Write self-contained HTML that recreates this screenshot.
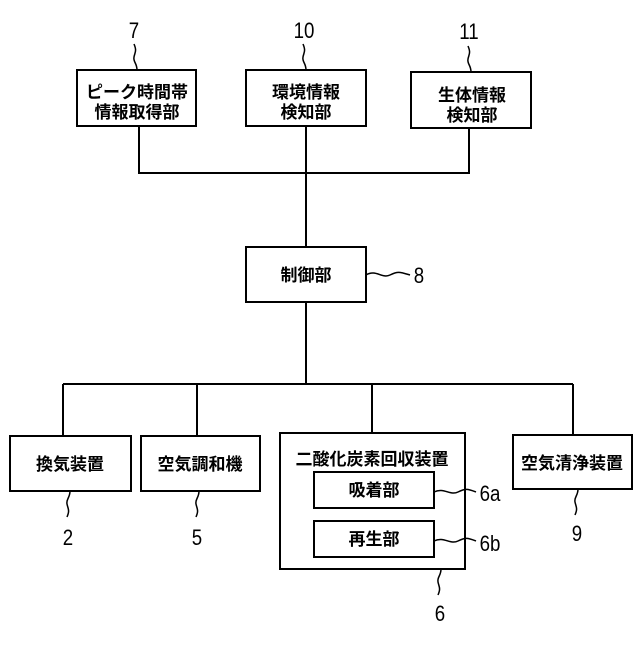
<!DOCTYPE html>
<html><head><meta charset="utf-8"><style>
body{margin:0;background:#fff}
svg text{font-family:"Liberation Sans","Noto Sans CJK JP",sans-serif;fill:#000}
</style></head><body>
<svg width="640" height="640" viewBox="0 0 640 640" xmlns="http://www.w3.org/2000/svg">
<g fill="none" stroke="#000" stroke-width="2">
<rect x="77" y="70" width="119" height="56"/>
<rect x="246" y="70" width="120" height="56"/>
<rect x="411" y="72" width="120" height="56"/>
<rect x="246" y="247" width="120" height="55"/>
<rect x="10" y="436" width="121" height="55"/>
<rect x="141" y="436" width="119" height="55"/>
<rect x="280" y="433" width="185" height="136"/>
<rect x="314" y="472" width="120" height="36"/>
<rect x="314" y="521" width="120" height="36"/>
<rect x="513" y="435" width="119" height="54"/>
<path d="M139 126V173H469V128M306 126V247M306 302V384M63 384H573M63 384V436M197 384V436M372 384V433M573 384V435"/>
<g stroke-width="1.5">
<path d="M137 70c0-7-4-8-3-13s3-6 0-13"/>
<path d="M306 70c0-7-4-8-3-13s3-6 0-13"/>
<path d="M471 72c0-7-4-8-3-13s3-6 0-13"/>
<path d="M366 275c10-6 16 4 24 0s10-3 20 0"/>
<path d="M70 491c0 7-4 8-3 13s3 6 0 13"/>
<path d="M199 491c0 7-4 8-3 13s3 6 0 13"/>
<path d="M578 489c0 7-4 8-3 13s3 6 0 13"/>
<path d="M441 569c0 7-4 8-3 13s3 6 0 13"/>
<path d="M434 492c10-5 16 4 24 0s10-3 18 0"/>
<path d="M434 541c10-5 16 4 24 0s10-3 18 0"/>
</g>
</g>
<g font-size="22" text-anchor="middle">
<text x="134" y="38" transform="translate(134 0) scale(0.85 1) translate(-134 0)">7</text>
<text x="304" y="38" transform="translate(304 0) scale(0.85 1) translate(-304 0)">10</text>
<text x="469" y="39" transform="translate(469 0) scale(0.85 1) translate(-469 0)">11</text>
<text x="419" y="283" transform="translate(419 0) scale(0.85 1) translate(-419 0)">8</text>
<text x="68" y="545" transform="translate(68 0) scale(0.85 1) translate(-68 0)">2</text>
<text x="197" y="545" transform="translate(197 0) scale(0.85 1) translate(-197 0)">5</text>
<text x="577" y="541" transform="translate(577 0) scale(0.85 1) translate(-577 0)">9</text>
<text x="440" y="621" transform="translate(440 0) scale(0.85 1) translate(-440 0)">6</text>
<text x="490" y="501" transform="translate(490 0) scale(0.85 1) translate(-490 0)">6a</text>
<text x="490" y="551" transform="translate(490 0) scale(0.85 1) translate(-490 0)">6b</text>
</g>
<g font-size="17" text-anchor="middle" font-weight="bold">
<text x="137" y="98">ピーク時間帯</text>
<text x="137" y="118">情報取得部</text>
<text x="306" y="98">環境情報</text>
<text x="306" y="118">検知部</text>
<text x="472" y="101">生体情報</text>
<text x="472" y="121">検知部</text>
<text x="306" y="281">制御部</text>
<text x="70" y="470">換気装置</text>
<text x="200" y="470">空気調和機</text>
<text x="372" y="465">二酸化炭素回収装置</text>
<text x="374" y="496">吸着部</text>
<text x="374" y="545">再生部</text>
<text x="572" y="469">空気清浄装置</text>
</g>
</svg>
</body></html>
